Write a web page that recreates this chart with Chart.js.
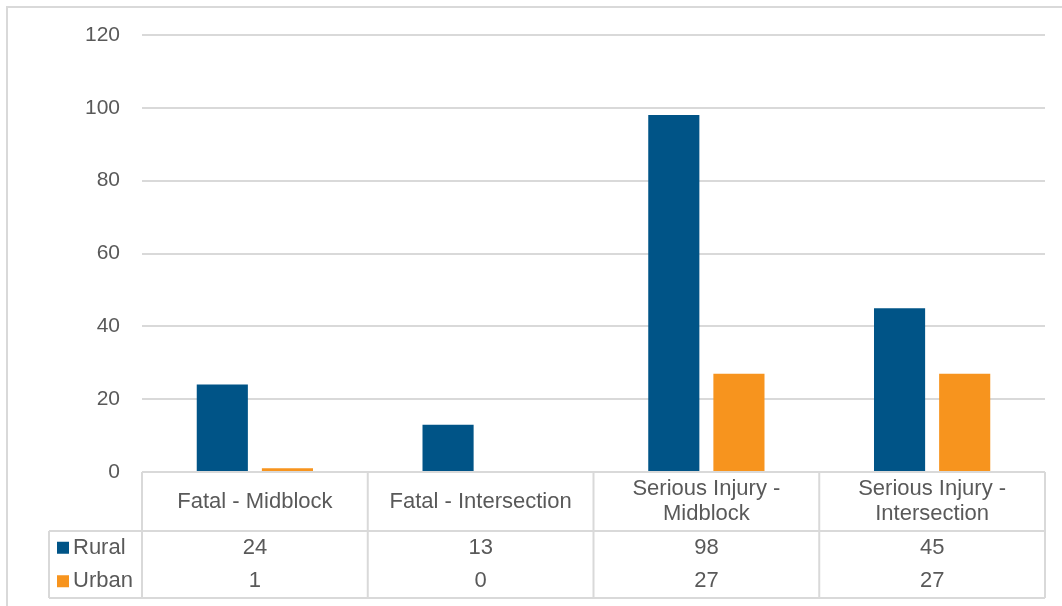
<!DOCTYPE html>
<html>
<head>
<meta charset="utf-8">
<script src="https://cdn.jsdelivr.net/npm/chart.js@4"></script>
<style>
  body { margin: 0; background: #fff; overflow: hidden; }
  #frame { position: absolute; left: 6px; top: 6px; width: 1100px; height: 700px; border: 2px solid #d9d9d9; }
  #wrap { position: absolute; left: 0; top: 0; width: 1062px; height: 606px; }
</style>
</head>
<body>
<div id="frame"></div>
<div id="wrap"><canvas id="myChart"></canvas></div>
<script>
const categorias = [
  ["Fatal - Midblock"],
  ["Fatal - Intersection"],
  ["Serious Injury -", "Midblock"],
  ["Serious Injury -", "Intersection"],
];
const rural = [24, 13, 98, 45];
const urban = [1, 0, 27, 27];
const yTicks = [0, 20, 40, 60, 80, 100, 120];

const corTexto = "#595959";
const corLinha = "#d9d9d9";
const fonte = "'Liberation Sans', Arial, sans-serif";

// data table under the plot, drawn from the same arrays
const tabela = {
  id: "tabela",
  afterDraw(chart) {
    const { ctx, chartArea, scales } = chart;
    const x = scales.x;
    const top = chartArea.bottom;
    const headBottom = top + 59;
    const rowH = 33.5;
    const bottom = headBottom + rowH * 2;
    const legendLeft = 49;
    const n = categorias.length;
    const step = (chartArea.right - chartArea.left) / n;

    ctx.save();
    ctx.strokeStyle = corLinha;
    ctx.lineWidth = 2;
    ctx.beginPath();
    for (let i = 0; i <= n; i++) {
      const xx = chartArea.left + i * step;
      ctx.moveTo(xx, top);
      ctx.lineTo(xx, bottom);
    }
    ctx.moveTo(legendLeft, headBottom);
    ctx.lineTo(chartArea.right, headBottom);
    ctx.moveTo(legendLeft, bottom);
    ctx.lineTo(chartArea.right, bottom);
    ctx.moveTo(legendLeft, headBottom);
    ctx.lineTo(legendLeft, bottom);
    ctx.stroke();

    ctx.fillStyle = corTexto;
    ctx.font = "22px " + fonte;
    ctx.textAlign = "center";
    ctx.textBaseline = "middle";
    categorias.forEach((linhas, i) => {
      const cx = x.getPixelForValue(i);
      const mid = (top + headBottom) / 2;
      linhas.forEach((t, j) => {
        const yy = mid + (j - (linhas.length - 1) / 2) * 25;
        ctx.fillText(t, cx, yy);
      });
    });

    chart.data.datasets.forEach((ds, r) => {
      const yy = headBottom + rowH * (r + 0.5);
      ctx.fillStyle = ds.backgroundColor;
      ctx.fillRect(legendLeft + 8, yy - 6, 12, 12);
      ctx.fillStyle = corTexto;
      ctx.textAlign = "left";
      ctx.fillText(ds.label, legendLeft + 24, yy);
      ctx.textAlign = "center";
      ds.data.forEach((v, i) => {
        ctx.fillText(String(v), x.getPixelForValue(i), yy);
      });
    });
    ctx.restore();
  },
};

const ctx = document.getElementById("myChart");
const grafico = new Chart(ctx, {
  type: "bar",
  data: {
    labels: categorias.map((c) => c.join(" ")),
    datasets: [
      { label: "Rural", data: rural, backgroundColor: "#005487" },
      { label: "Urban", data: urban, backgroundColor: "#f7941e" },
    ],
  },
  options: {
    responsive: true,
    maintainAspectRatio: false,
    animation: false,
    datasets: {
      bar: { barPercentage: 0.785, categoryPercentage: 0.577 },
    },
    layout: { padding: { top: 35, right: 17, bottom: 134, left: 0 } },
    scales: {
      x: { display: false },
      y: {
        min: 0,
        max: 120,
        afterBuildTicks: (s) => { s.ticks = yTicks.map((v) => ({ value: v })); },
        afterFit: (s) => { s.width = 142; },
        border: { display: false },
        grid: { color: corLinha, lineWidth: 2, drawTicks: false },
        ticks: {
          padding: 22,
          color: corTexto,
          font: { size: 21, family: fonte },
        },
      },
    },
    plugins: {
      legend: { display: false },
      tooltip: { enabled: false },
    },
  },
  plugins: [tabela],
});
</script>
</body>
</html>
